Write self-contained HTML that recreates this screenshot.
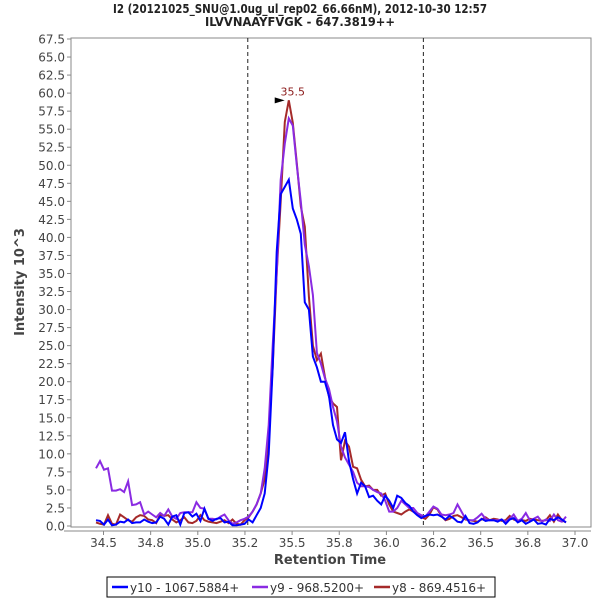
<!DOCTYPE html>
<html><head><meta charset="utf-8"><style>
body{margin:0;background:#fff;}
svg{display:block;font-family:"DejaVu Sans","Liberation Sans",sans-serif;}
</style></head><body>
<svg id="chart" width="600" height="600" viewBox="0 0 600 600" xmlns="http://www.w3.org/2000/svg">
<rect width="600" height="600" fill="#fff"/>
<text x="113" y="13" textLength="374" lengthAdjust="spacingAndGlyphs" font-size="12" font-weight="bold" fill="#222">I2 (20121025_SNU@1.0ug_ul_rep02_66.66nM), 2012-10-30 12:57</text>
<text x="205" y="26" textLength="190" lengthAdjust="spacingAndGlyphs" font-size="12" font-weight="bold" fill="#222">ILVVNAAYFVGK - 647.3819++</text>
<rect x="71" y="38" width="520" height="489" fill="#fff" stroke="#888" stroke-width="1"/>
<g id="yaxis"></g>
<g id="xaxis"></g>
<g id="marks"></g>
<text transform="translate(24,282) rotate(-90)" text-anchor="middle" font-size="13" font-weight="bold" fill="#444">Intensity 10^3</text>
<text x="330" y="564" text-anchor="middle" font-size="13" font-weight="bold" fill="#444">Retention Time</text>
<g>
<rect x="107" y="577" width="388" height="20" fill="#fff" stroke="#000" stroke-width="1"/>
<g><line x1="112" y1="587" x2="128" y2="587" stroke="#0000ff" stroke-width="2.5"/><text x="130" y="592" font-size="12" fill="#333">y10 - 1067.5884+</text></g>
<g><line x1="252" y1="587" x2="268" y2="587" stroke="#8a2be2" stroke-width="2.5"/><text x="270" y="592" font-size="12" fill="#333">y9 - 968.5200+</text></g>
<g><line x1="374" y1="587" x2="390" y2="587" stroke="#a52a2a" stroke-width="2.5"/><text x="392" y="592" font-size="12" fill="#333">y8 - 869.4516+</text></g>
</g>
</svg>
<script>
const sampleStart = 34.46;
const sampleStep = 0.0213;
const xTicks = [34.5,34.75,35.0,35.25,35.5,35.75,36.0,36.25,36.5,36.75,37.0];
const xTickLabels = ["34.5","34.8","35.0","35.2","35.5","35.8","36.0","36.2","36.5","36.8","37.0"];
const yTicks = [0,2.5,5,7.5,10,12.5,15,17.5,20,22.5,25,27.5,30,32.5,35,37.5,40,42.5,45,47.5,50,52.5,55,57.5,60,62.5,65,67.5];
const boundaries = [35.265, 36.196];
const peakTime = 35.482, peakValue = 59.0, peakLabel = "35.5";
const y10 = [0.8,0.7,0.2,0.9,0.1,0.2,0.6,0.5,0.9,0.4,0.5,0.5,0.9,0.6,0.4,0.5,1.3,1.0,0.2,1.3,1.5,0.2,1.8,1.9,1.3,1.7,0.7,2.4,1.0,0.7,1.0,1.1,0.5,0.6,0.1,0.1,0.2,0.3,0.9,0.5,1.5,2.5,4.5,10,22,38,46,47,48,44,42.5,40.5,31,30,23.5,22,20,20,18,14,12,11.5,13,9,6.5,4.5,6,5.5,4,4.2,3.5,3.0,4.2,3.5,2.5,4.2,3.9,3.2,2.8,2.0,1.5,1.1,1.4,1.6,1.5,1.6,1.3,0.9,1.4,1.1,0.6,0.5,1.4,0.4,0.3,0.5,1.0,0.7,0.8,0.8,0.6,0.9,0.3,0.9,1.1,0.5,0.8,0.3,0.6,0.9,0.3,0.4,0.2,1.0,0.8,1.2,0.9,0.5];
const y9 = [8.0,9.0,7.8,8.0,4.9,4.9,5.1,4.7,6.2,2.9,3.0,3.3,1.6,2.0,1.6,1.2,1.8,1.4,2.3,1.3,1.0,1.8,1.9,1.9,1.9,3.3,2.5,2.4,1.0,1.0,0.9,1.3,1.6,0.8,0.3,0.5,0.8,1.0,1.3,2.0,3.0,4.5,8,14,25,35,48,53,56.5,55.5,50,45,39,36,32,24,22.5,20.5,19,16.5,14.5,11,9.5,8.5,7.5,6,5.5,5.5,5.4,5.0,4.7,4.5,3.5,2.0,2.0,2.5,3.5,3.0,2.5,2.5,1.8,1.5,1.3,2.0,2.7,2.4,1.6,1.5,1.6,1.8,3.0,2.0,1.0,0.8,0.8,1.2,1.7,1.0,0.8,0.8,0.8,0.9,0.6,1.0,1.6,0.7,1.0,1.8,0.8,1.0,1.3,0.6,0.9,0.7,1.6,0.8,0.6,1.3];
const y8 = [0.5,0.3,0.2,1.5,0.3,0.2,1.6,1.2,0.8,0.6,1.2,1.5,1.4,0.9,0.8,0.4,1.6,1.4,1.5,0.9,0.5,0.8,1.2,0.5,0.4,0.7,1.5,0.8,0.6,0.5,0.4,0.6,0.8,0.4,0.9,0.3,0.2,0.8,1.2,2.0,3.0,4.5,6.5,12.9,22,35,45,56,59,55.9,50.3,44.3,41.5,31.8,25,23,23.9,20.7,17.9,17,16.5,9.1,11.8,11.0,8.2,8.0,6.4,5.5,5.6,5,5,4.2,4.5,3,2,1.8,1.6,2,2.3,2.0,1.7,1.2,1.0,1.6,2.6,2.3,1.4,0.8,1.0,1.4,1.5,1.2,0.9,0.8,0.7,0.6,0.9,1.2,0.8,1.0,0.9,0.7,0.8,1.4,0.9,0.7,0.8,0.7,1.0,0.9,0.8,0.7,0.8,1.5,0.6,1.6,0.8,0.5];

const NS = "http://www.w3.org/2000/svg";
const X0 = 103.5, XPU = 188.6;
const xs = t => X0 + (t - 34.5) * XPU;
const ys = v => 526 - v * (487 / 67.5);
function mk(tag, attrs, parent) {
  const e = document.createElementNS(NS, tag);
  for (const k in attrs) e.setAttribute(k, attrs[k]);
  parent.appendChild(e);
  return e;
}
const yg = document.getElementById('yaxis');
mk('line', {x1: 71, y1: 38, x2: 71, y2: 527, stroke: '#888'}, yg);
yTicks.forEach(v => {
  const tk = mk('line', {x1: 67, y1: ys(v), x2: 71, y2: ys(v), stroke: '#888'}, yg);
  
  
  const lb = mk('text', {x: 65, y: ys(v) + 4.5, 'text-anchor': 'end', 'font-size': 12, fill: '#444'}, yg);
  lb.textContent = v.toFixed(1);
  
  
});
const xg = document.getElementById('xaxis');
mk('line', {x1: 64, y1: 531, x2: 591, y2: 531, stroke: '#888'}, xg);
xTicks.forEach((t, i) => {
  const tk = mk('line', {x1: xs(t), y1: 531, x2: xs(t), y2: 535, stroke: '#888'}, xg);
  
  
  const lb = mk('text', {x: xs(t), y: 547, 'text-anchor': 'middle', 'font-size': 12, fill: '#444'}, xg);
  lb.textContent = xTickLabels[i];
  
  
});
const mg = document.getElementById('marks');
boundaries.forEach(t => {
  const l = mk('line', {x1: xs(t), y1: 38, x2: xs(t), y2: 527, stroke: '#222', 'stroke-dasharray': '4,3', 'stroke-width': 1}, mg);
  
  
});
[[y8, '#a52a2a', 'series-y8'], [y9, '#8a2be2', 'series-y9'], [y10, '#0000ff', 'series-y10']].forEach(s => {
  const pts = s[0].map((v, i) => xs(sampleStart + i * sampleStep).toFixed(1) + ',' + ys(v).toFixed(1)).join(' ');
  const p = mk('polyline', {points: pts, fill: 'none', stroke: s[1], 'stroke-width': 2, 'stroke-linejoin': 'miter'}, mg);
  
  
});
const px = xs(peakTime), py = ys(peakValue);
const tri = mk('polygon', {points: `${px-14},${py-3} ${px-4},${py} ${px-14},${py+3}`, fill: '#000'}, mg);


const pl = mk('text', {x: px + 4, y: py - 5, 'text-anchor': 'middle', 'font-size': 11, fill: '#8b1a1a'}, mg);
pl.textContent = peakLabel;


</script>
</body></html>
